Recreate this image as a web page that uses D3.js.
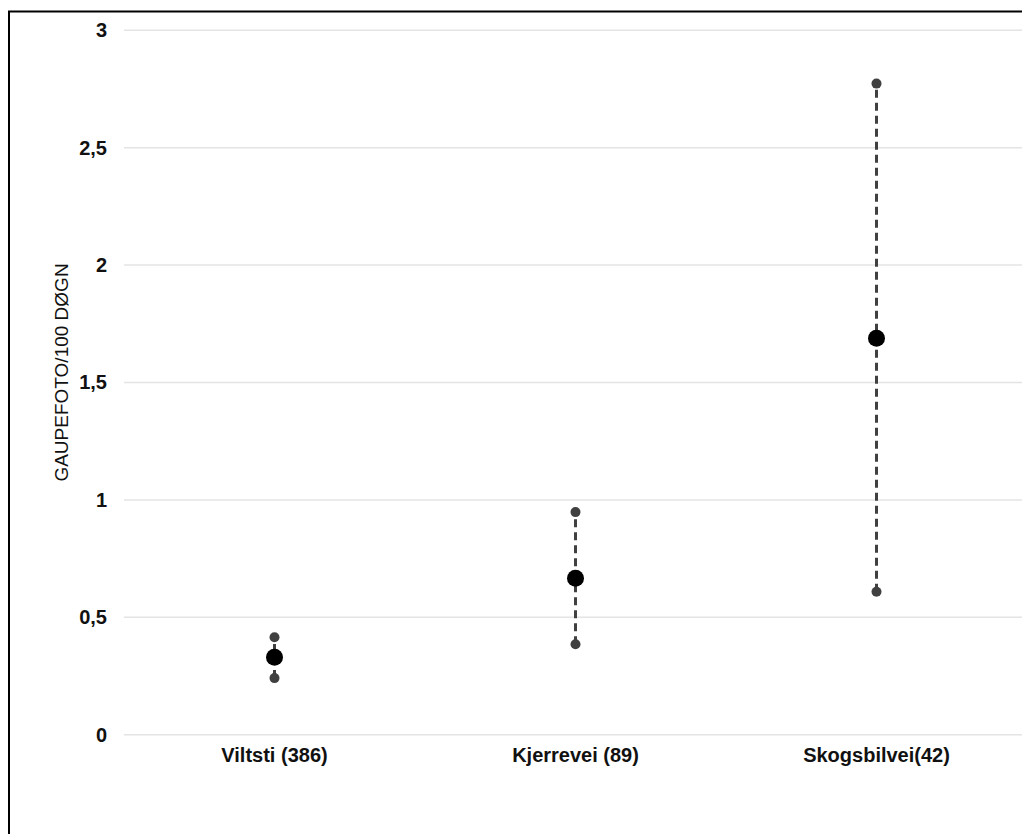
<!DOCTYPE html>
<html>
<head>
<meta charset="utf-8">
<script src="https://cdn.jsdelivr.net/npm/d3@7"></script>
<style>
  body { margin: 0; background: #fff; }
  text { font-family: "Liberation Sans", Arial, sans-serif; }
</style>
</head>
<body>
<div id="main"></div>
<script>
var WIDTH = 1022
var HEIGHT = 834

// data
var categories = ["Viltsti (386)", "Kjerrevei (89)", "Skogsbilvei(42)"]
var means = [0.33, 0.666, 1.688]
var lower = [0.241, 0.385, 0.609]
var upper = [0.415, 0.948, 2.773]
var yTicks = [0, 0.5, 1, 1.5, 2, 2.5, 3]
var yTitle = "GAUPEFOTO/100 DØGN"

var data = categories.map((c, i) => ({ cat: c, mean: means[i], lo: lower[i], hi: upper[i] }))

const svg = d3.select('#main').append('svg')
    .attr('width', WIDTH)
    .attr('height', HEIGHT)

// outer frame (runs past the right and bottom edge)
svg.append('rect')
    .attr('x', 9)
    .attr('y', 11.5)
    .attr('width', 1100)
    .attr('height', 1000)
    .attr('fill', 'none')
    .attr('stroke', '#000')
    .attr('stroke-width', 2)

var x = d3.scaleBand()
    .domain(categories)
    .range([124, 1027])

var y = d3.scaleLinear()
    .domain([0, 3])
    .range([734.7, 30.3])

// gridlines
svg.append('g')
    .selectAll('line')
    .data(yTicks)
    .enter()
    .append('line')
    .attr('x1', 124)
    .attr('x2', 1027)
    .attr('y1', d => y(d))
    .attr('y2', d => y(d))
    .attr('stroke', '#e4e4e4')
    .attr('stroke-width', 1.5)

// y axis labels
var yAxis = d3.axisLeft(y)
    .tickValues(yTicks)
    .tickSize(0)
    .tickPadding(0)
    .tickFormat(d => String(d).replace('.', ','))

svg.append('g')
    .attr('transform', 'translate(107,0)')
    .call(yAxis)
    .call(g => g.select('.domain').remove())
    .selectAll('text')
    .attr('font-size', 20)
    .attr('font-weight', 'bold')
    .attr('fill', '#111')
    .attr('font-family', '"Liberation Sans", Arial, sans-serif')

// x axis labels
var xAxis = d3.axisBottom(x).tickSize(0).tickPadding(0)
svg.append('g')
    .attr('transform', 'translate(0,' + 748 + ')')
    .call(xAxis)
    .call(g => g.select('.domain').remove())
    .selectAll('text')
    .attr('font-size', 20)
    .attr('font-weight', 'bold')
    .attr('fill', '#111')
    .attr('font-family', '"Liberation Sans", Arial, sans-serif')

// y title
svg.append('text')
    .attr('transform', 'translate(68,' + 372.5 + ') rotate(-90)')
    .attr('text-anchor', 'middle')
    .attr('font-size', 19)
    .attr('fill', '#111')
    .text(yTitle)

var cx = d => x(d.cat) + x.bandwidth() / 2

var g = svg.append('g')

// dashed range lines
g.selectAll('line.range')
    .data(data)
    .enter()
    .append('line')
    .attr('class', 'range')
    .attr('x1', cx)
    .attr('x2', cx)
    .attr('y1', d => y(d.lo))
    .attr('y2', d => y(d.hi))
    .attr('stroke', '#404040')
    .attr('stroke-width', 3)
    .attr('stroke-dasharray', '8,5')

// end points
g.selectAll('circle.lo')
    .data(data)
    .enter()
    .append('circle')
    .attr('cx', cx)
    .attr('cy', d => y(d.lo))
    .attr('r', 5)
    .attr('fill', '#404040')

g.selectAll('circle.hi')
    .data(data)
    .enter()
    .append('circle')
    .attr('cx', cx)
    .attr('cy', d => y(d.hi))
    .attr('r', 5)
    .attr('fill', '#404040')

// means
g.selectAll('circle.mean')
    .data(data)
    .enter()
    .append('circle')
    .attr('cx', cx)
    .attr('cy', d => y(d.mean))
    .attr('r', 8.5)
    .attr('fill', '#000')
</script>
</body>
</html>
